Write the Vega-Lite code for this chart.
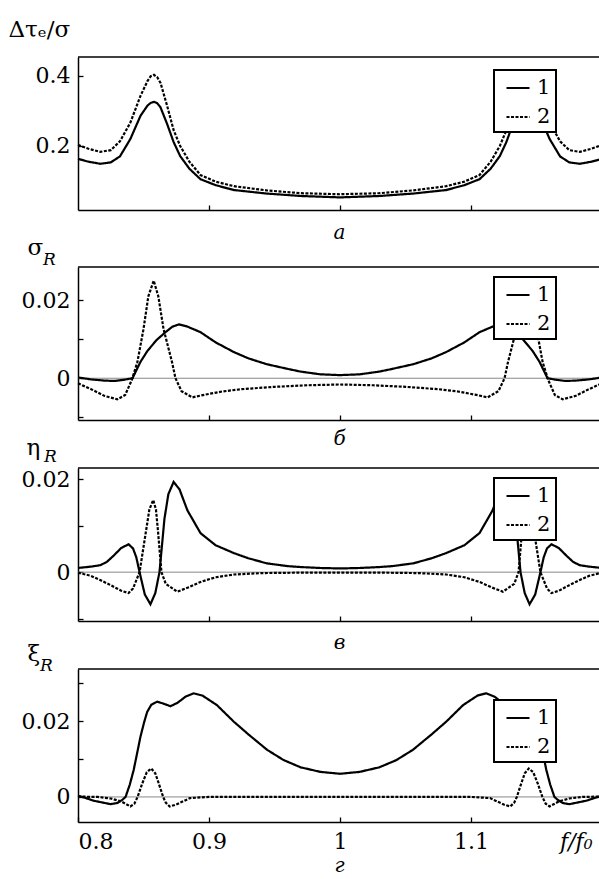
{
"$schema":"https://vega.github.io/schema/vega-lite/v6.json",
"background":"white",
"padding":{"left":8,"top":18,"right":0,"bottom":5},
"bounds":"flush",
"spacing":57,
"datasets":{
"a":[
{"f":0.8,"v":0.163,"s":"1"},{"f":0.808,"v":0.155,"s":"1"},{"f":0.817,"v":0.149,"s":"1"},{"f":0.825,"v":0.153,"s":"1"},{"f":0.832,"v":0.17,"s":"1"},{"f":0.84,"v":0.22,"s":"1"},{"f":0.8477,"v":0.286,"s":"1"},{"f":0.853,"v":0.315,"s":"1"},{"f":0.8555,"v":0.323,"s":"1"},{"f":0.858,"v":0.326,"s":"1"},{"f":0.8605,"v":0.322,"s":"1"},{"f":0.863,"v":0.31,"s":"1"},{"f":0.868,"v":0.263,"s":"1"},{"f":0.873,"v":0.211,"s":"1"},{"f":0.878,"v":0.171,"s":"1"},{"f":0.885,"v":0.135,"s":"1"},{"f":0.8935,"v":0.105,"s":"1"},{"f":0.905,"v":0.088,"s":"1"},{"f":0.919,"v":0.074,"s":"1"},{"f":0.944,"v":0.064,"s":"1"},{"f":0.97,"v":0.057,"s":"1"},{"f":1.0,"v":0.053,"s":"1"},{"f":1.03,"v":0.057,"s":"1"},{"f":1.056,"v":0.064,"s":"1"},{"f":1.081,"v":0.074,"s":"1"},{"f":1.095,"v":0.088,"s":"1"},{"f":1.1065,"v":0.105,"s":"1"},{"f":1.115,"v":0.135,"s":"1"},{"f":1.122,"v":0.171,"s":"1"},{"f":1.127,"v":0.211,"s":"1"},{"f":1.132,"v":0.263,"s":"1"},{"f":1.137,"v":0.31,"s":"1"},{"f":1.1395,"v":0.322,"s":"1"},{"f":1.142,"v":0.326,"s":"1"},{"f":1.1445,"v":0.323,"s":"1"},{"f":1.147,"v":0.315,"s":"1"},{"f":1.1523,"v":0.286,"s":"1"},{"f":1.16,"v":0.22,"s":"1"},{"f":1.168,"v":0.17,"s":"1"},{"f":1.175,"v":0.153,"s":"1"},{"f":1.183,"v":0.149,"s":"1"},{"f":1.192,"v":0.155,"s":"1"},{"f":1.2,"v":0.163,"s":"1"},
{"f":0.8,"v":0.203,"s":"2"},{"f":0.808,"v":0.192,"s":"2"},{"f":0.817,"v":0.183,"s":"2"},{"f":0.825,"v":0.188,"s":"2"},{"f":0.832,"v":0.213,"s":"2"},{"f":0.84,"v":0.267,"s":"2"},{"f":0.8477,"v":0.343,"s":"2"},{"f":0.853,"v":0.385,"s":"2"},{"f":0.8555,"v":0.399,"s":"2"},{"f":0.858,"v":0.403,"s":"2"},{"f":0.8605,"v":0.396,"s":"2"},{"f":0.863,"v":0.38,"s":"2"},{"f":0.868,"v":0.315,"s":"2"},{"f":0.873,"v":0.245,"s":"2"},{"f":0.878,"v":0.2,"s":"2"},{"f":0.885,"v":0.155,"s":"2"},{"f":0.8935,"v":0.117,"s":"2"},{"f":0.905,"v":0.098,"s":"2"},{"f":0.919,"v":0.085,"s":"2"},{"f":0.944,"v":0.073,"s":"2"},{"f":0.97,"v":0.065,"s":"2"},{"f":1.0,"v":0.062,"s":"2"},{"f":1.03,"v":0.065,"s":"2"},{"f":1.056,"v":0.073,"s":"2"},{"f":1.081,"v":0.085,"s":"2"},{"f":1.095,"v":0.098,"s":"2"},{"f":1.1065,"v":0.117,"s":"2"},{"f":1.115,"v":0.155,"s":"2"},{"f":1.122,"v":0.2,"s":"2"},{"f":1.127,"v":0.245,"s":"2"},{"f":1.132,"v":0.315,"s":"2"},{"f":1.137,"v":0.38,"s":"2"},{"f":1.1395,"v":0.396,"s":"2"},{"f":1.142,"v":0.403,"s":"2"},{"f":1.1445,"v":0.399,"s":"2"},{"f":1.147,"v":0.385,"s":"2"},{"f":1.1523,"v":0.343,"s":"2"},{"f":1.16,"v":0.267,"s":"2"},{"f":1.168,"v":0.213,"s":"2"},{"f":1.175,"v":0.188,"s":"2"},{"f":1.183,"v":0.183,"s":"2"},{"f":1.192,"v":0.192,"s":"2"},{"f":1.2,"v":0.203,"s":"2"}
],
"b":[
{"f":0.8,"v":0.0002,"s":"1"},{"f":0.81,"v":-0.0003,"s":"1"},{"f":0.82,"v":-0.0006,"s":"1"},{"f":0.828,"v":-0.0007,"s":"1"},{"f":0.835,"v":-0.0004,"s":"1"},{"f":0.8416,"v":0.0,"s":"1"},{"f":0.8477,"v":0.0042,"s":"1"},{"f":0.853,"v":0.007,"s":"1"},{"f":0.86,"v":0.0098,"s":"1"},{"f":0.8668,"v":0.0118,"s":"1"},{"f":0.872,"v":0.0132,"s":"1"},{"f":0.877,"v":0.0138,"s":"1"},{"f":0.883,"v":0.0133,"s":"1"},{"f":0.8935,"v":0.0118,"s":"1"},{"f":0.905,"v":0.0092,"s":"1"},{"f":0.919,"v":0.0067,"s":"1"},{"f":0.93,"v":0.0051,"s":"1"},{"f":0.944,"v":0.0036,"s":"1"},{"f":0.96,"v":0.0024,"s":"1"},{"f":0.97,"v":0.0017,"s":"1"},{"f":0.985,"v":0.001,"s":"1"},{"f":1.0,"v":0.0008,"s":"1"},{"f":1.015,"v":0.001,"s":"1"},{"f":1.03,"v":0.0017,"s":"1"},{"f":1.04,"v":0.0024,"s":"1"},{"f":1.056,"v":0.0036,"s":"1"},{"f":1.07,"v":0.0051,"s":"1"},{"f":1.081,"v":0.0067,"s":"1"},{"f":1.095,"v":0.0092,"s":"1"},{"f":1.1065,"v":0.0118,"s":"1"},{"f":1.117,"v":0.0133,"s":"1"},{"f":1.123,"v":0.0138,"s":"1"},{"f":1.128,"v":0.0132,"s":"1"},{"f":1.1332,"v":0.0118,"s":"1"},{"f":1.14,"v":0.0098,"s":"1"},{"f":1.147,"v":0.007,"s":"1"},{"f":1.1523,"v":0.0042,"s":"1"},{"f":1.1584,"v":0.0,"s":"1"},{"f":1.165,"v":-0.0004,"s":"1"},{"f":1.172,"v":-0.0007,"s":"1"},{"f":1.18,"v":-0.0006,"s":"1"},{"f":1.19,"v":-0.0003,"s":"1"},{"f":1.2,"v":0.0002,"s":"1"},
{"f":0.8,"v":-0.0013,"s":"2"},{"f":0.81,"v":-0.0028,"s":"2"},{"f":0.82,"v":-0.0045,"s":"2"},{"f":0.83,"v":-0.0054,"s":"2"},{"f":0.836,"v":-0.0043,"s":"2"},{"f":0.841,"v":-0.0005,"s":"2"},{"f":0.8453,"v":0.0041,"s":"2"},{"f":0.85,"v":0.0126,"s":"2"},{"f":0.8537,"v":0.021,"s":"2"},{"f":0.8578,"v":0.025,"s":"2"},{"f":0.8613,"v":0.021,"s":"2"},{"f":0.8653,"v":0.0126,"s":"2"},{"f":0.8718,"v":0.0041,"s":"2"},{"f":0.8744,"v":0.0,"s":"2"},{"f":0.879,"v":-0.0033,"s":"2"},{"f":0.8873,"v":-0.0049,"s":"2"},{"f":0.897,"v":-0.0042,"s":"2"},{"f":0.91,"v":-0.0034,"s":"2"},{"f":0.925,"v":-0.0028,"s":"2"},{"f":0.95,"v":-0.0022,"s":"2"},{"f":0.975,"v":-0.0018,"s":"2"},{"f":1.0,"v":-0.0016,"s":"2"},{"f":1.025,"v":-0.0018,"s":"2"},{"f":1.05,"v":-0.0022,"s":"2"},{"f":1.075,"v":-0.0028,"s":"2"},{"f":1.09,"v":-0.0034,"s":"2"},{"f":1.103,"v":-0.0042,"s":"2"},{"f":1.1127,"v":-0.0049,"s":"2"},{"f":1.121,"v":-0.0033,"s":"2"},{"f":1.1256,"v":0.0,"s":"2"},{"f":1.1282,"v":0.0041,"s":"2"},{"f":1.1347,"v":0.0126,"s":"2"},{"f":1.1387,"v":0.021,"s":"2"},{"f":1.1422,"v":0.025,"s":"2"},{"f":1.1463,"v":0.021,"s":"2"},{"f":1.15,"v":0.0126,"s":"2"},{"f":1.1547,"v":0.0041,"s":"2"},{"f":1.159,"v":-0.0005,"s":"2"},{"f":1.164,"v":-0.0043,"s":"2"},{"f":1.17,"v":-0.0054,"s":"2"},{"f":1.18,"v":-0.0045,"s":"2"},{"f":1.19,"v":-0.0028,"s":"2"},{"f":1.2,"v":-0.0013,"s":"2"}
],
"c":[
{"f":0.8,"v":0.0009,"s":"1"},{"f":0.81,"v":0.0012,"s":"1"},{"f":0.817,"v":0.0015,"s":"1"},{"f":0.822,"v":0.0022,"s":"1"},{"f":0.827,"v":0.0035,"s":"1"},{"f":0.833,"v":0.0052,"s":"1"},{"f":0.8386,"v":0.006,"s":"1"},{"f":0.842,"v":0.0051,"s":"1"},{"f":0.8445,"v":0.0032,"s":"1"},{"f":0.847,"v":0.0,"s":"1"},{"f":0.851,"v":-0.0048,"s":"1"},{"f":0.8553,"v":-0.0069,"s":"1"},{"f":0.859,"v":-0.0045,"s":"1"},{"f":0.8622,"v":0.0,"s":"1"},{"f":0.866,"v":0.0115,"s":"1"},{"f":0.869,"v":0.0168,"s":"1"},{"f":0.873,"v":0.0194,"s":"1"},{"f":0.8775,"v":0.0178,"s":"1"},{"f":0.8835,"v":0.0133,"s":"1"},{"f":0.8935,"v":0.0084,"s":"1"},{"f":0.905,"v":0.0058,"s":"1"},{"f":0.919,"v":0.0041,"s":"1"},{"f":0.93,"v":0.003,"s":"1"},{"f":0.944,"v":0.0019,"s":"1"},{"f":0.96,"v":0.0013,"s":"1"},{"f":0.97,"v":0.0011,"s":"1"},{"f":0.985,"v":0.0009,"s":"1"},{"f":1.0,"v":0.0008,"s":"1"},{"f":1.015,"v":0.0009,"s":"1"},{"f":1.03,"v":0.0011,"s":"1"},{"f":1.04,"v":0.0013,"s":"1"},{"f":1.056,"v":0.0019,"s":"1"},{"f":1.07,"v":0.003,"s":"1"},{"f":1.081,"v":0.0041,"s":"1"},{"f":1.095,"v":0.0058,"s":"1"},{"f":1.1065,"v":0.0084,"s":"1"},{"f":1.1165,"v":0.0133,"s":"1"},{"f":1.1225,"v":0.0178,"s":"1"},{"f":1.127,"v":0.0194,"s":"1"},{"f":1.131,"v":0.0168,"s":"1"},{"f":1.134,"v":0.0115,"s":"1"},{"f":1.1378,"v":0.0,"s":"1"},{"f":1.141,"v":-0.0045,"s":"1"},{"f":1.1447,"v":-0.0069,"s":"1"},{"f":1.149,"v":-0.0048,"s":"1"},{"f":1.153,"v":0.0,"s":"1"},{"f":1.1555,"v":0.0032,"s":"1"},{"f":1.158,"v":0.0051,"s":"1"},{"f":1.1614,"v":0.006,"s":"1"},{"f":1.167,"v":0.0052,"s":"1"},{"f":1.173,"v":0.0035,"s":"1"},{"f":1.178,"v":0.0022,"s":"1"},{"f":1.183,"v":0.0015,"s":"1"},{"f":1.19,"v":0.0012,"s":"1"},{"f":1.2,"v":0.0009,"s":"1"},
{"f":0.8,"v":-0.0001,"s":"2"},{"f":0.81,"v":-0.0008,"s":"2"},{"f":0.817,"v":-0.0017,"s":"2"},{"f":0.825,"v":-0.0028,"s":"2"},{"f":0.833,"v":-0.004,"s":"2"},{"f":0.8386,"v":-0.0045,"s":"2"},{"f":0.842,"v":-0.0035,"s":"2"},{"f":0.847,"v":0.0,"s":"2"},{"f":0.852,"v":0.009,"s":"2"},{"f":0.8545,"v":0.0135,"s":"2"},{"f":0.8574,"v":0.0155,"s":"2"},{"f":0.8595,"v":0.0135,"s":"2"},{"f":0.861,"v":0.009,"s":"2"},{"f":0.8637,"v":0.0,"s":"2"},{"f":0.867,"v":-0.0025,"s":"2"},{"f":0.8757,"v":-0.0042,"s":"2"},{"f":0.884,"v":-0.0033,"s":"2"},{"f":0.8935,"v":-0.0021,"s":"2"},{"f":0.905,"v":-0.0011,"s":"2"},{"f":0.919,"v":-0.0005,"s":"2"},{"f":0.94,"v":-0.0002,"s":"2"},{"f":0.97,"v":-0.0001,"s":"2"},{"f":1.0,"v":-0.0001,"s":"2"},{"f":1.03,"v":-0.0001,"s":"2"},{"f":1.06,"v":-0.0002,"s":"2"},{"f":1.081,"v":-0.0005,"s":"2"},{"f":1.095,"v":-0.0011,"s":"2"},{"f":1.1065,"v":-0.0021,"s":"2"},{"f":1.116,"v":-0.0033,"s":"2"},{"f":1.1243,"v":-0.0042,"s":"2"},{"f":1.133,"v":-0.0025,"s":"2"},{"f":1.1363,"v":0.0,"s":"2"},{"f":1.139,"v":0.009,"s":"2"},{"f":1.1405,"v":0.0135,"s":"2"},{"f":1.1426,"v":0.0155,"s":"2"},{"f":1.1455,"v":0.0135,"s":"2"},{"f":1.148,"v":0.009,"s":"2"},{"f":1.153,"v":0.0,"s":"2"},{"f":1.158,"v":-0.0035,"s":"2"},{"f":1.1614,"v":-0.0045,"s":"2"},{"f":1.167,"v":-0.004,"s":"2"},{"f":1.175,"v":-0.0028,"s":"2"},{"f":1.183,"v":-0.0017,"s":"2"},{"f":1.19,"v":-0.0008,"s":"2"},{"f":1.2,"v":-0.0001,"s":"2"}
],
"d":[
{"f":0.8,"v":0.0003,"s":"1"},{"f":0.806,"v":-0.0003,"s":"1"},{"f":0.812,"v":-0.001,"s":"1"},{"f":0.8248,"v":-0.0019,"s":"1"},{"f":0.83,"v":-0.0016,"s":"1"},{"f":0.8337,"v":-0.0008,"s":"1"},{"f":0.8363,"v":0.0,"s":"1"},{"f":0.8395,"v":0.0032,"s":"1"},{"f":0.8425,"v":0.0071,"s":"1"},{"f":0.845,"v":0.0113,"s":"1"},{"f":0.8477,"v":0.0159,"s":"1"},{"f":0.8505,"v":0.0197,"s":"1"},{"f":0.8528,"v":0.0224,"s":"1"},{"f":0.856,"v":0.0243,"s":"1"},{"f":0.8605,"v":0.0251,"s":"1"},{"f":0.865,"v":0.0246,"s":"1"},{"f":0.8706,"v":0.0239,"s":"1"},{"f":0.876,"v":0.0248,"s":"1"},{"f":0.882,"v":0.0264,"s":"1"},{"f":0.8884,"v":0.0273,"s":"1"},{"f":0.895,"v":0.0267,"s":"1"},{"f":0.906,"v":0.0242,"s":"1"},{"f":0.919,"v":0.0198,"s":"1"},{"f":0.93,"v":0.0165,"s":"1"},{"f":0.9444,"v":0.0124,"s":"1"},{"f":0.957,"v":0.0097,"s":"1"},{"f":0.97,"v":0.0078,"s":"1"},{"f":0.985,"v":0.0066,"s":"1"},{"f":1.0,"v":0.0061,"s":"1"},{"f":1.015,"v":0.0066,"s":"1"},{"f":1.03,"v":0.0078,"s":"1"},{"f":1.043,"v":0.0097,"s":"1"},{"f":1.0556,"v":0.0124,"s":"1"},{"f":1.07,"v":0.0165,"s":"1"},{"f":1.081,"v":0.0198,"s":"1"},{"f":1.094,"v":0.0242,"s":"1"},{"f":1.105,"v":0.0267,"s":"1"},{"f":1.1116,"v":0.0273,"s":"1"},{"f":1.118,"v":0.0264,"s":"1"},{"f":1.124,"v":0.0248,"s":"1"},{"f":1.1294,"v":0.0239,"s":"1"},{"f":1.135,"v":0.0246,"s":"1"},{"f":1.1395,"v":0.0251,"s":"1"},{"f":1.144,"v":0.0243,"s":"1"},{"f":1.1472,"v":0.0224,"s":"1"},{"f":1.1495,"v":0.0197,"s":"1"},{"f":1.1523,"v":0.0159,"s":"1"},{"f":1.155,"v":0.0113,"s":"1"},{"f":1.1575,"v":0.0071,"s":"1"},{"f":1.1605,"v":0.0032,"s":"1"},{"f":1.1637,"v":0.0,"s":"1"},{"f":1.1663,"v":-0.0008,"s":"1"},{"f":1.17,"v":-0.0016,"s":"1"},{"f":1.1752,"v":-0.0019,"s":"1"},{"f":1.188,"v":-0.001,"s":"1"},{"f":1.194,"v":-0.0003,"s":"1"},{"f":1.2,"v":0.0003,"s":"1"},
{"f":0.8,"v":0.0001,"s":"2"},{"f":0.815,"v":0.0,"s":"2"},{"f":0.825,"v":-0.0004,"s":"2"},{"f":0.833,"v":-0.0012,"s":"2"},{"f":0.84,"v":-0.0025,"s":"2"},{"f":0.843,"v":-0.0018,"s":"2"},{"f":0.8455,"v":0.0,"s":"2"},{"f":0.849,"v":0.0035,"s":"2"},{"f":0.8525,"v":0.0065,"s":"2"},{"f":0.8559,"v":0.0075,"s":"2"},{"f":0.859,"v":0.0062,"s":"2"},{"f":0.862,"v":0.0032,"s":"2"},{"f":0.865,"v":0.0,"s":"2"},{"f":0.867,"v":-0.0015,"s":"2"},{"f":0.87,"v":-0.0025,"s":"2"},{"f":0.875,"v":-0.002,"s":"2"},{"f":0.8855,"v":-0.0003,"s":"2"},{"f":0.9,"v":0.0,"s":"2"},{"f":0.95,"v":0.0,"s":"2"},{"f":1.0,"v":0.0,"s":"2"},{"f":1.05,"v":0.0,"s":"2"},{"f":1.1,"v":0.0,"s":"2"},{"f":1.1145,"v":-0.0003,"s":"2"},{"f":1.125,"v":-0.002,"s":"2"},{"f":1.13,"v":-0.0025,"s":"2"},{"f":1.133,"v":-0.0015,"s":"2"},{"f":1.135,"v":0.0,"s":"2"},{"f":1.138,"v":0.0032,"s":"2"},{"f":1.141,"v":0.0062,"s":"2"},{"f":1.1441,"v":0.0075,"s":"2"},{"f":1.1475,"v":0.0065,"s":"2"},{"f":1.151,"v":0.0035,"s":"2"},{"f":1.1545,"v":0.0,"s":"2"},{"f":1.157,"v":-0.0018,"s":"2"},{"f":1.16,"v":-0.0025,"s":"2"},{"f":1.167,"v":-0.0012,"s":"2"},{"f":1.175,"v":-0.0004,"s":"2"},{"f":1.185,"v":0.0,"s":"2"},{"f":1.2,"v":0.0001,"s":"2"}
]
},
"config":{
"font":"DejaVu Serif",
"view":{"stroke":null},
"axis":{"domainColor":"black","domainWidth":1.5,"tickColor":"black","tickWidth":1.3,"tickSize":-5,"grid":false,"labelFont":"DejaVu Serif","titleFont":"DejaVu Serif","labelFontSize":22,"labelColor":"black","titleColor":"black","titleFontWeight":"normal"},
"axisY":{"labelPadding":13,"titleAngle":0,"titleAlign":"left","titleBaseline":"alphabetic","titleFontSize":23},
"axisX":{"labelPadding":14,"titleFontStyle":"italic","titleFontSize":20,"titleAlign":"center","titleBaseline":"alphabetic","titleX":261},
"legend":{"orient":"none","legendX":416,"title":null,"fillColor":"white","strokeColor":"black","strokeWidth":2,"padding":5,"symbolType":"stroke","symbolSize":529,"symbolStrokeWidth":2,"symbolStrokeColor":"black","symbolOffset":6,"labelOffset":6,"labelFont":"DejaVu Serif","labelFontSize":21,"labelColor":"black","rowPadding":6},
"title":{"font":"DejaVu Serif","fontStyle":"italic","fontSize":17,"fontWeight":"normal","anchor":"start","frame":"group","offset":0,"baseline":"alphabetic","color":"black"},
"line":{"color":"black","strokeWidth":2.2,"clip":true}
},
"resolve":{"scale":{"x":"independent","y":"independent","strokeDash":"independent"},"axis":{"x":"independent","y":"independent"},"legend":{"strokeDash":"independent"}},
"vconcat":[
{"width":521,"height":153,
"layer":[
{"data":{"name":"a"},"mark":"line","encoding":{
"x":{"field":"f","type":"quantitative","scale":{"domain":[0.8,1.1977],"nice":false,"zero":false},"axis":{"values":[0.9,1,1.1],"labels":false,"title":"а","titleY":28}},
"y":{"field":"v","type":"quantitative","scale":{"domain":[0.017,0.454],"nice":false,"zero":false},"axis":{"values":[0.2,0.4],"labelExpr":"format(datum.value,'.1f')","title":"Δτₑ/σ","titleX":-70,"titleY":-21}},
"strokeDash":{"field":"s","type":"nominal","scale":{"domain":["1","2"],"range":[[1,0],[3,1.5]]},"legend":{"legendY":13}}}},
{"data":{"values":[{}]},"mark":{"type":"rule","color":"black","strokeWidth":1.5},"encoding":{"y":{"datum":0.454}}}
]},
{"bounds":"flush","spacing":48,
"resolve":{"scale":{"x":"independent","y":"independent","strokeDash":"independent"},"axis":{"x":"independent","y":"independent"},"legend":{"strokeDash":"independent"}},
"vconcat":[
{"width":521,"height":153,"title":{"text":"R","dx":-35,"dy":37},
"layer":[
{"data":{"values":[{}]},"mark":{"type":"rule","color":"#888","strokeWidth":1},"encoding":{"y":{"datum":0}}},
{"data":{"name":"b"},"mark":"line","encoding":{
"x":{"field":"f","type":"quantitative","scale":{"domain":[0.8,1.1977],"nice":false,"zero":false},"axis":{"values":[0.9,1,1.1],"labels":false,"title":"б","titleY":24}},
"y":{"field":"v","type":"quantitative","scale":{"domain":[-0.0107,0.0285],"nice":false,"zero":false},"axis":{"values":[-0.01,0,0.01,0.02],"labelExpr":"datum.value==0 ? '0' : (abs(datum.value-0.02)<1e-9 ? '0.02' : '')","title":"σ","titleX":-51,"titleY":-13}},
"strokeDash":{"field":"s","type":"nominal","scale":{"domain":["1","2"],"range":[[1,0],[3,1.5]]},"legend":{"legendY":10}}}},
{"data":{"values":[{}]},"mark":{"type":"rule","color":"black","strokeWidth":1.5},"encoding":{"y":{"datum":0.0285}}}
]},
{"width":521,"height":153,"title":{"text":"R","dx":-34,"dy":34},
"layer":[
{"data":{"values":[{}]},"mark":{"type":"rule","color":"#888","strokeWidth":1},"encoding":{"y":{"datum":0}}},
{"data":{"name":"c"},"mark":"line","encoding":{
"x":{"field":"f","type":"quantitative","scale":{"domain":[0.8,1.1977],"nice":false,"zero":false},"axis":{"values":[0.9,1,1.1],"labels":false,"title":"в","titleY":27}},
"y":{"field":"v","type":"quantitative","scale":{"domain":[-0.0105,0.0224],"nice":false,"zero":false},"axis":{"values":[-0.01,0,0.01,0.02],"labelExpr":"datum.value==0 ? '0' : (abs(datum.value-0.02)<1e-9 ? '0.02' : '')","title":"η","titleX":-52,"titleY":-14}},
"strokeDash":{"field":"s","type":"nominal","scale":{"domain":["1","2"],"range":[[1,0],[3,1.5]]},"legend":{"legendY":10}}}},
{"data":{"values":[{}]},"mark":{"type":"rule","color":"black","strokeWidth":1.5},"encoding":{"y":{"datum":0.0224}}}
]},
{"width":521,"height":153,"title":{"text":"R","dx":-38,"dy":37},
"layer":[
{"data":{"values":[{}]},"mark":{"type":"rule","color":"#888","strokeWidth":1},"encoding":{"y":{"datum":0}}},
{"data":{"name":"d"},"mark":"line","encoding":{
"x":{"field":"f","type":"quantitative","scale":{"domain":[0.8,1.1977],"nice":false,"zero":false},"axis":{"values":[0.8,0.9,1,1.1,1.18],"labelExpr":"datum.value>1.15 ? 'f/f₀' : (datum.value==1 ? '1' : format(datum.value,'.1f'))","labelFontStyle":{"condition":{"test":"datum.value>1.15","value":"italic"},"value":"normal"},"tickOpacity":{"condition":{"test":"datum.value>1.15","value":0},"value":1},"title":"г","titleY":49}},
"y":{"field":"v","type":"quantitative","scale":{"domain":[-0.0066,0.0337],"nice":false,"zero":false},"axis":{"values":[0,0.01,0.02,0.03],"labelExpr":"datum.value==0 ? '0' : (abs(datum.value-0.02)<1e-9 ? '0.02' : '')","title":"ξ","titleX":-51,"titleY":-9}},
"strokeDash":{"field":"s","type":"nominal","scale":{"domain":["1","2"],"range":[[1,0],[3,1.5]]},"legend":{"legendY":31}}}},
{"data":{"values":[{}]},"mark":{"type":"rule","color":"black","strokeWidth":1.5},"encoding":{"y":{"datum":0.0337}}}
]}
]}
]
}
